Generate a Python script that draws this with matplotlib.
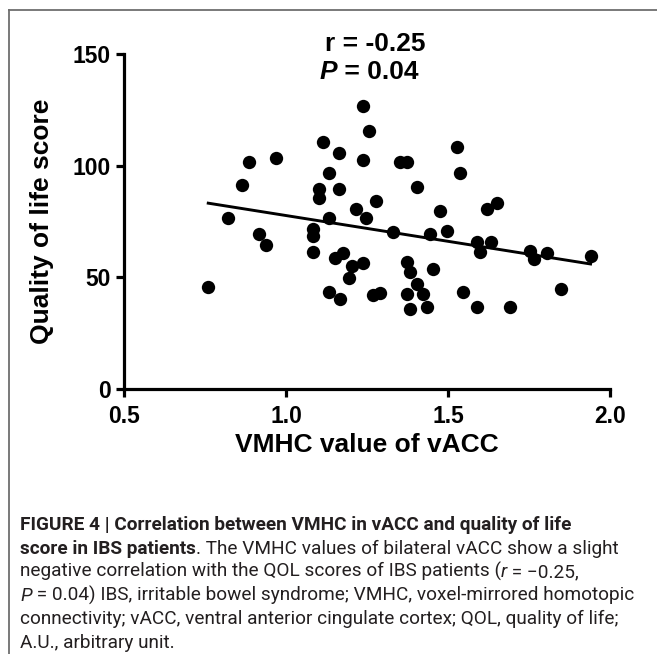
import numpy as np
import matplotlib
matplotlib.use("Agg")
import matplotlib.pyplot as plt
from matplotlib import font_manager
from matplotlib.lines import Line2D

# ---------------- data ----------------
vmhc = [0.760, 0.820, 0.865, 0.886, 0.968, 0.917, 0.937, 1.113, 1.103, 1.103,
        1.082, 1.082, 1.082, 1.237, 1.257, 1.164, 1.237, 1.352, 1.374, 1.527,
        1.537, 1.134, 1.164, 1.403, 1.278, 1.216, 1.247, 1.475, 1.134, 1.329,
        1.444, 1.496, 1.151, 1.175, 1.203, 1.237, 1.195, 1.134, 1.167, 1.268,
        1.290, 1.372, 1.383, 1.454, 1.403, 1.424, 1.372, 1.383, 1.434, 1.547,
        1.652, 1.621, 1.589, 1.632, 1.599, 1.753, 1.765, 1.807, 1.940, 1.848,
        1.589, 1.691]
qol = [45.7, 76.5, 91.4, 101.5, 103.4, 69.5, 64.6, 110.4, 89.6, 85.6,
       71.7, 68.5, 61.5, 126.5, 115.3, 105.5, 102.5, 101.5, 101.5, 108.5,
       96.6, 96.6, 89.6, 90.5, 84.4, 80.7, 76.5, 79.6, 76.6, 70.5,
       69.5, 70.7, 58.8, 60.9, 54.9, 56.4, 49.9, 43.4, 40.5, 41.9,
       43.0, 56.8, 52.4, 53.6, 47.0, 42.7, 42.7, 35.7, 36.5, 43.4,
       83.5, 80.7, 65.8, 65.8, 61.3, 61.8, 58.3, 60.9, 59.5, 44.6,
       36.5, 36.5]
x_ticks = [0.5, 1.0, 1.5, 2.0]
y_ticks = [0, 50, 100, 150]
x_label = "VMHC value of vACC"
y_label = "Quality of life score"
stat_r = "r = -0.25"
stat_p = ("P", " = 0.04")

caption = [
    [("FIGURE 4 | Correlation between VMHC in vACC and quality of life", "bold", "normal")],
    [("score in IBS patients", "bold", "normal"),
     (". The VMHC values of bilateral vACC show a slight", "normal", "normal")],
    [("negative correlation with the QOL scores of IBS patients (", "normal", "normal"),
     ("r", "normal", "italic"), (" = \u22120.25,", "normal", "normal")],
    [("P", "normal", "italic"),
     (" = 0.04) IBS, irritable bowel syndrome; VMHC, voxel-mirrored homotopic", "normal", "normal")],
    [("connectivity; vACC, ventral anterior cingulate cortex; QOL, quality of life;", "normal", "normal")],
    [("A.U., arbitrary unit.", "normal", "normal")],
]

# ---------------- fonts ----------------
def has_font(name):
    try:
        font_manager.findfont(font_manager.FontProperties(family=name),
                              fallback_to_default=False)
        return True
    except Exception:
        return False

MAIN = ["Liberation Sans", "DejaVu Sans"]
CAP = ["Liberation Sans Narrow", "DejaVu Sans"] if has_font("Liberation Sans Narrow") \
    else ["Roboto", "DejaVu Sans"]
plt.rcParams["font.family"] = MAIN

W, H = 657, 654
fig = plt.figure(figsize=(W / 100, H / 100), dpi=100)
fig.patch.set_facecolor("white")

def fx(px):
    return px / W

def fy(py):
    return 1 - py / H

# frame around the figure panel
frame_col = "#6e6e6e"
fig.add_artist(Line2D([fx(9), fx(W)], [fy(9.5), fy(9.5)], color=frame_col, lw=1.3))
fig.add_artist(Line2D([fx(9), fx(9)], [fy(9.5), fy(H)], color=frame_col, lw=1.3))

# ---------------- axes ----------------
ax = fig.add_axes([fx(124), fy(389), (610 - 124) / W, (389 - 54) / H])
x = np.array(vmhc)
y = np.array(qol)
ax.plot(x, y, "o", color="black", markersize=9.6, markeredgewidth=0, clip_on=False, zorder=3)

slope, intercept = np.polyfit(x, y, 1)
xf = np.array([x.min(), x.max()])
ax.plot(xf, slope * xf + intercept, color="black", lw=2.1, zorder=2)

ax.set_xlim(0.5, 2.0)
ax.set_ylim(0, 150)
ax.set_xticks(x_ticks)
ax.set_yticks(y_ticks)
ax.set_xticklabels([f"{v:.1f}" for v in x_ticks])
ax.set_yticklabels([f"{v:d}" for v in y_ticks])
for s in ["top", "right"]:
    ax.spines[s].set_visible(False)
for s in ["left", "bottom"]:
    ax.spines[s].set_linewidth(2.3)
ax.tick_params(axis="both", width=2.3, length=6, direction="out", labelsize=16.5)
ax.tick_params(axis="x", pad=5.5)
ax.tick_params(axis="y", pad=3.5)
for lab in ax.get_xticklabels() + ax.get_yticklabels():
    lab.set_fontweight("bold")

ax.set_xlabel(x_label, fontsize=19, fontweight="bold", va="center")
ax.xaxis.set_label_coords(0.5, (389 - 445) / (389 - 54))
ax.set_ylabel(y_label, fontsize=19, fontweight="bold", va="center", ha="center")
ax.yaxis.set_label_coords((42 - 124) / (610 - 124), 0.5)

renderer = fig.canvas.get_renderer()

def row(x_px, y_px, segs, size, family, color, align="left", va="baseline"):
    widths = []
    for txt, weight, style in segs:
        t = fig.text(0, 0, txt, fontsize=size, fontweight=weight, fontstyle=style,
                     family=family)
        widths.append(t.get_window_extent(renderer).width)
        t.remove()
    total = sum(widths)
    start = x_px - total / 2 if align == "center" else x_px
    cur = start
    for (txt, weight, style), w in zip(segs, widths):
        fig.text(fx(cur), fy(y_px), txt, fontsize=size, fontweight=weight,
                 fontstyle=style, family=family, color=color, ha="left", va=va)
        cur += w
    return total

# statistics annotation
row(375, 44, [(stat_r, "bold", "normal")], 19, MAIN, "black", align="center", va="center")
row(369, 72, [(stat_p[0], "bold", "italic"), (stat_p[1], "bold", "normal")], 19, MAIN,
    "black", align="center", va="center")

# caption: fit font size so that the longest line spans the reference width
t = fig.text(0, 0, "".join(s[0] for s in caption[3]), fontsize=12, family=CAP)
w12 = t.get_window_extent(renderer).width
t.remove()
cap_size = 12 * (633 - 20) / w12
base0, step = 530, 23.6
for i, segs in enumerate(caption):
    row(20, base0 + i * step, segs, cap_size, CAP, "#231f20")

fig.savefig("out.png", dpi=100)
